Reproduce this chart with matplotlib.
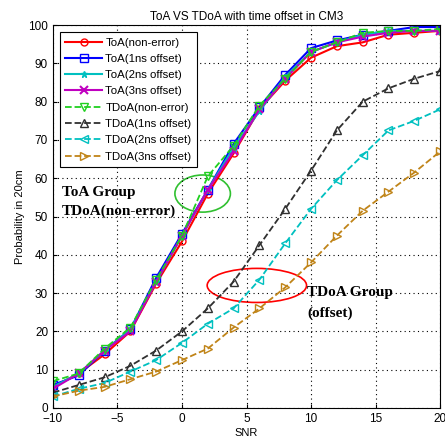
import numpy as np
import matplotlib.pyplot as plt
from matplotlib.patches import Ellipse

plt.rcParams['font.family'] = ['Liberation Sans', 'DejaVu Sans']

snr = np.arange(-10, 21, 2)

toa_0 = [5.5, 9, 14, 20, 32.5, 43.5, 56, 66.5, 78, 85.5, 91.5, 94.5, 95.5, 97.5, 98, 98.5]
toa_1 = [6, 8.5, 15, 20.5, 34, 45.5, 57, 69, 78.5, 87, 94, 96, 97.5, 98.5, 99.5, 99.5]
toa_2 = [5.5, 9, 15, 20.5, 33, 45, 57, 68, 77.5, 86.5, 93, 95.5, 97.5, 98.5, 98.5, 98.5]
toa_3 = [5, 9, 15, 20, 33, 45, 57, 67, 78, 86, 93, 95.5, 97, 98, 98.5, 98.5]
tdoa_0 = [7, 9, 15.5, 21, 33.5, 45, 60.5, 68.5, 79, 86, 93, 95.5, 98, 98.5, 98.5, 99]
tdoa_1 = [4, 6, 8, 11, 15, 20, 26, 33, 42.5, 52, 62, 72.5, 80, 83.5, 86, 88]
tdoa_2 = [3, 5, 6.5, 9.5, 12.5, 17, 22, 26, 33.5, 43, 52, 59.5, 66, 72.5, 75, 78]
tdoa_3 = [3, 4.5, 5.5, 7.5, 9.5, 12.5, 15.5, 21, 26, 31.5, 38, 45, 51.5, 56.5, 61.5, 67]

fig = plt.figure(figsize=(4.45, 4.41), dpi=100)
ax = fig.add_axes([0.119, 0.075, 0.870, 0.868])

orange = '#c08418'
ax.plot(snr, toa_0, '-o', color='red', lw=1.5, ms=5, mfc='none', label='ToA(non-error)')
ax.plot(snr, toa_1, '-s', color='blue', lw=1.5, ms=6, mfc='none', label='ToA(1ns offset)')
ax.plot(snr, toa_2, '-*', color='#00c0c0', lw=1.5, ms=5, label='ToA(2ns offset)')
ax.plot(snr, toa_3, '-x', color='#c000c0', lw=1.5, ms=6, mew=1.5, label='ToA(3ns offset)')
ax.plot(snr, tdoa_0, '--v', color='#20d020', lw=1.3, ms=6, mfc='none', label='TDoA(non-error)')
ax.plot(snr, tdoa_1, '--^', color='#303030', lw=1.3, ms=6, mfc='none', label='TDoA(1ns offset)')
ax.plot(snr, tdoa_2, '--<', color='#00c0c0', lw=1.3, ms=6, mfc='none', label='TDoA(2ns offset)')
ax.plot(snr, tdoa_3, '-->', color=orange, lw=1.3, ms=6, mfc='none', label='TDoA(3ns offset)')

ax.add_patch(Ellipse((1.6, 56), 4.3, 9.7, fill=False, ec='#30c030', lw=1.2))
ax.add_patch(Ellipse((5.8, 32), 7.7, 8.9, fill=False, ec='red', lw=1.2))

serif = dict(family=['Liberation Serif', 'DejaVu Serif'], fontweight='bold', fontsize=11)
ax.text(-9.3, 56.4, 'ToA Group', va='center', **serif)
ax.text(-9.3, 51.4, 'TDoA(non-error)', va='center', **serif)
ax.text(9.7, 30.2, 'TDoA Group', va='center', **serif)
ax.text(9.7, 24.8, '(offset)', va='center', **serif)

ax.set_xlim(-10, 20)
ax.set_ylim(0, 100)
ax.set_xticks(np.arange(-10, 21, 5))
ax.set_yticks(np.arange(0, 101, 10))
ax.tick_params(labelsize=8.5, direction='in', length=3)
ax.grid(True, linestyle=(0, (1, 3)), color='black', lw=0.8)
ax.set_xlabel('SNR', fontsize=8, labelpad=2)
ax.set_ylabel('Probability in 20cm', fontsize=8, labelpad=2)
ax.set_title('ToA VS TDoA with time offset in CM3', fontsize=8.5, pad=4)

leg = ax.legend(loc='upper left', fontsize=8.2, fancybox=False, edgecolor='black',
                framealpha=1, handlelength=3.2, labelspacing=0.55, borderpad=0.5,
                handletextpad=0.3, borderaxespad=0.6)
leg.get_frame().set_linewidth(0.8)

fig.savefig('out.png', dpi=100)
